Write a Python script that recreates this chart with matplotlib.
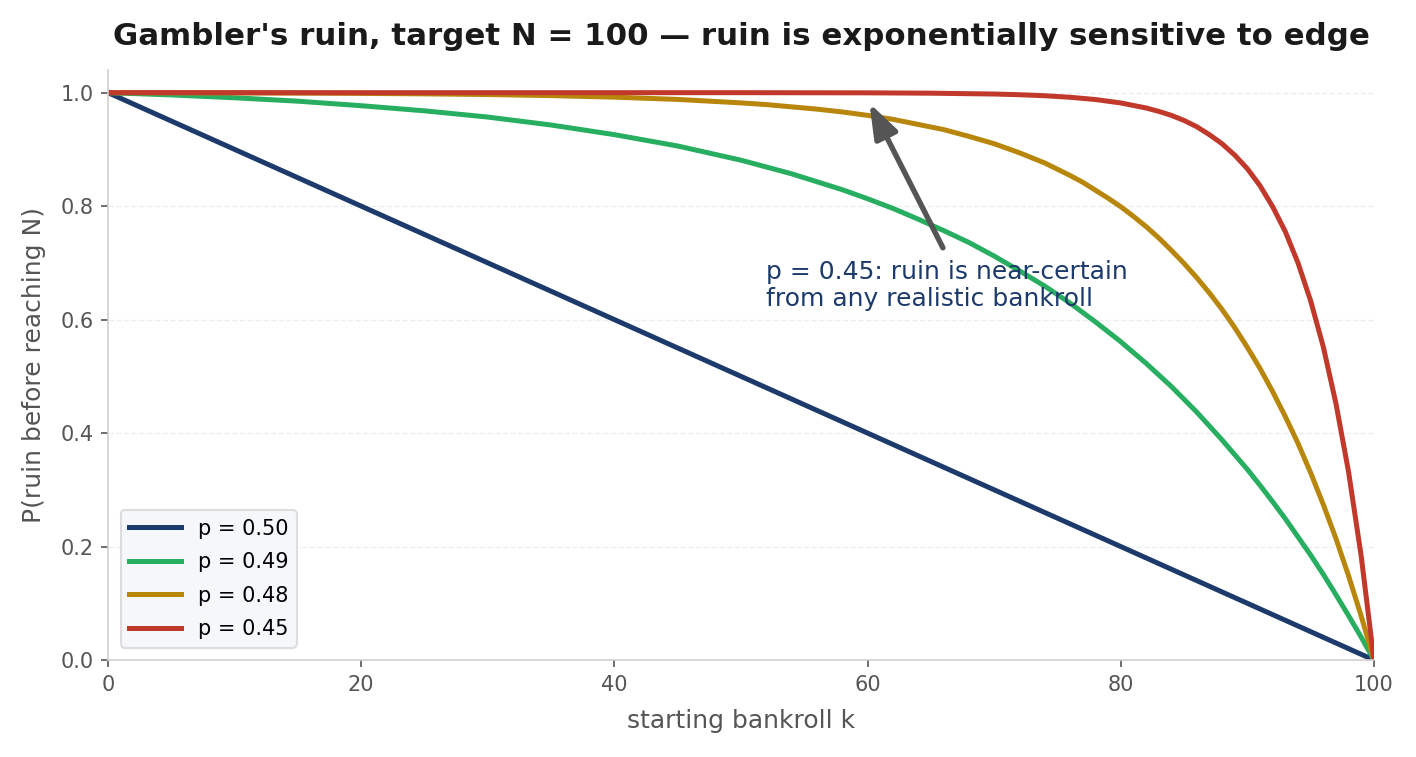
import matplotlib
import matplotlib.pyplot as plt

matplotlib.use('Agg')

# values
k_050 = [0, 100]
ruin_050 = [1.0, 0.0]

k_049 = [0, 5, 10, 15, 20, 25, 30, 35, 40, 45, 50, 52, 54, 56, 58, 60, 62, 64, 66, 68, 70,
         72, 74, 76, 78, 80, 82, 84, 86, 88, 90, 91, 92, 93, 94, 95, 96, 97, 98, 99, 100]
ruin_049 = [1.0, 0.996, 0.991, 0.985, 0.977, 0.968, 0.957, 0.943, 0.926, 0.906, 0.881, 0.869,
            0.857, 0.843, 0.829, 0.813, 0.796, 0.777, 0.757, 0.736, 0.712, 0.686, 0.659, 0.629,
            0.596, 0.561, 0.523, 0.482, 0.437, 0.388, 0.336, 0.308, 0.279, 0.249, 0.217, 0.185,
            0.151, 0.115, 0.078, 0.040, 0.0]

k_048 = [0, 5, 10, 15, 20, 25, 30, 35, 40, 45, 50, 52, 54, 56, 58, 60, 62, 64, 66, 68, 70,
         71, 72, 73, 74, 75, 76, 77, 78, 79, 80, 81, 82, 83, 84, 85, 86, 87, 88, 89,
         90, 91, 92, 93, 94, 95, 96, 97, 98, 99, 100]
ruin_048 = [1.0, 0.9998, 0.9996, 0.9992, 0.9987, 0.9979, 0.9967, 0.9948, 0.9921, 0.9881, 0.982,
            0.979, 0.975, 0.971, 0.966, 0.960, 0.953, 0.944, 0.935, 0.923, 0.910,
            0.902, 0.894, 0.885, 0.876, 0.865, 0.854, 0.842, 0.828, 0.814, 0.799, 0.782, 0.764,
            0.744, 0.722, 0.699, 0.674, 0.647, 0.618, 0.586,
            0.551, 0.514, 0.473, 0.429, 0.382, 0.330, 0.274, 0.214, 0.148, 0.077, 0.0]

k_045 = [0, 50, 60, 65, 70, 72, 74, 76, 78, 80, 82, 83, 84, 85, 86, 87, 88, 89, 90, 91, 92,
         93, 94, 95, 96, 97, 98, 99, 100]
ruin_045 = [1.0, 1.0, 0.9997, 0.9991, 0.9976, 0.9964, 0.9946, 0.9919, 0.9879, 0.9819, 0.973,
            0.967, 0.960, 0.951, 0.940, 0.926, 0.910, 0.890, 0.866, 0.836, 0.799, 0.755, 0.700,
            0.633, 0.552, 0.452, 0.331, 0.182, 0.0]

series = [
    (k_050, ruin_050, 'p = 0.50', '#1c3a6b'),
    (k_049, ruin_049, 'p = 0.49', '#27ae60'),
    (k_048, ruin_048, 'p = 0.48', '#b8860b'),
    (k_045, ruin_045, 'p = 0.45', '#c0392b'),
]

fig, ax = plt.subplots(figsize=(9.44, 5.047), dpi=150)
fig.subplots_adjust(left=0.0763, right=0.9703, bottom=0.1281, top=0.9075)

for k, ruin, label, color in series:
    ax.plot(k, ruin, color=color, linewidth=2.4, label=label)

ax.set_xlim(0, 100)
ax.set_ylim(0, 1.04)
ax.set_yticks([0.0, 0.2, 0.4, 0.6, 0.8, 1.0])
ax.grid(axis='y', linestyle='--', color='#e6e8f0', linewidth=0.7, alpha=0.7)
ax.set_axisbelow(True)

for side in ['top', 'right']:
    ax.spines[side].set_visible(False)
for side in ['left', 'bottom']:
    ax.spines[side].set_color('#d0d0d0')
ax.tick_params(colors='#555555', labelsize=10)

ax.set_xlabel('starting bankroll k', fontsize=12, color='#555555', labelpad=7)
ax.set_ylabel('P(ruin before reaching N)', fontsize=12, color='#555555', labelpad=7)
ax.set_title("Gambler's ruin, target N = 100 — ruin is exponentially sensitive to edge",
             fontsize=14.8, fontweight='bold', color='#1a1a1a', pad=12)

ax.annotate('', xy=(60, 0.988), xytext=(66.1, 0.72),
            arrowprops=dict(arrowstyle='-|>,head_width=0.25,head_length=0.7',
                            mutation_scale=20, color='#555555', linewidth=2.6))
ax.text(52, 0.66, 'p = 0.45: ruin is near-certain\nfrom any realistic bankroll',
        fontsize=12, color='#1c3a6b', va='center', ha='left', linespacing=1.15)

ax.legend(loc='lower left', fontsize=10, frameon=True, facecolor='#f5f7fb',
          edgecolor='#dddddd', framealpha=1.0, handlelength=2.5, labelspacing=0.65,
          borderaxespad=0.6)

plt.savefig('out.png', dpi=150)
plt.close()
